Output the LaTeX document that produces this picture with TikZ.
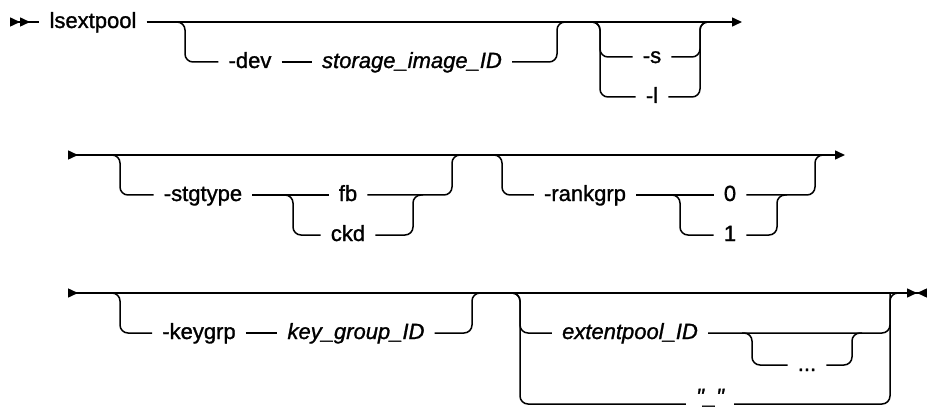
\documentclass[tikz,border=0pt]{standalone}
\usepackage{fontspec}
\setmainfont{Liberation Sans}
\usetikzlibrary{arrows.meta,positioning}

\tikzset{rtip/.tip={Triangle[length=10pt,width=9pt]},
  ltip/.tip={Triangle[length=10pt,width=9pt,reversed]}}

\begin{document}
\begin{tikzpicture}[x=1pt, y=-1pt,
  rail/.style={line width=1.5pt, rounded corners=8pt},
  kw/.style={inner xsep=10pt, inner ysep=0pt, text height=16pt, text depth=4pt,
    font=\fontsize{22}{25}\selectfont\addfontfeatures{FakeBold=1.2}},
  var/.style={kw, font=\fontsize{22}{25}\selectfont\itshape\addfontfeatures{FakeBold=1.2}}]

  \useasboundingbox (0,0) rectangle (927,409);

  % first line: command, -dev, -s / -l
  \coordinate (s1) at (10,22);
  \coordinate (e1) at (742,22);
  \node[kw] (cmd) at (93,22) {lsextpool};
  \coordinate (devL) at (175,22);
  \coordinate (devR) at (557,22);
  \node[kw] (dev) at (250,62) {-dev};
  \node[var] (sid) at (412,62) {storage\_image\_ID};
  \coordinate (slL) at (590,22);
  \coordinate (slR) at (700,22);
  \node[kw] (optS) at (652,57) {-s};
  \node[kw] (optL) at (652,97) {-l};

  \draw[rail, {ltip[]ltip[]}-] (s1) -- (cmd.west);
  \draw[rail, -rtip] (cmd.east) -- (e1);
  \draw[rail] (devL) -- ++(10,0) |- (dev.west);
  \draw[rail] (dev.east) -- (sid.west);
  \draw[rail] (sid.east) -| (devR) -- ++(10,0);
  \foreach \o in {optS, optL} {
    \draw[rail] (slL) -- ++(10,0) |- (\o.west);
    \draw[rail] (\o.east) -| (slR) -- ++(10,0);
  }

  % second line: -stgtype, -rankgrp
  \coordinate (s2) at (68,155);
  \coordinate (e2) at (845,155);
  \coordinate (stL) at (110,155);
  \coordinate (stR) at (452,155);
  \node[kw] (stg) at (203,195) {-stgtype};
  \coordinate (fbL) at (283,195);
  \coordinate (fbR) at (413,195);
  \node[kw] (fb) at (348,195) {fb};
  \node[kw] (ckd) at (348,235) {ckd};
  \coordinate (rkL) at (492,155);
  \coordinate (rkR) at (815,155);
  \node[kw] (rank) at (585,195) {-rankgrp};
  \coordinate (nL) at (670,195);
  \coordinate (nR) at (777,195);
  \node[kw] (n0) at (730,195) {0};
  \node[kw] (n1) at (730,235) {1};

  \draw[rail, ltip-rtip] (s2) -- (e2);
  \draw[rail] (stL) -- ++(10,0) |- (stg.west);
  \draw[rail] (stg.east) -- (fb.west);
  \draw[rail] (fbL) -- ++(10,0) |- (ckd.west);
  \draw[rail] (ckd.east) -| (fbR) -- ++(10,0);
  \draw[rail] (fb.east) -| (stR) -- ++(10,0);
  \draw[rail] (rkL) -- ++(10,0) |- (rank.west);
  \draw[rail] (rank.east) -- (n0.west);
  \draw[rail] (nL) -- ++(10,0) |- (n1.west);
  \draw[rail] (n1.east) -| (nR) -- ++(10,0);
  \draw[rail] (n0.east) -| (rkR) -- ++(10,0);

  % third line: -keygrp, extentpool_ID ... / "_"
  \coordinate (s3) at (68,293);
  \coordinate (e3) at (927,293);
  \coordinate (kgL) at (110,293);
  \coordinate (kgR) at (472,293);
  \node[kw] (kg) at (199,333) {-keygrp};
  \node[var] (kgid) at (356,333) {key\_group\_ID};
  \coordinate (exL) at (510,293);
  \coordinate (exR) at (890,293);
  \node[var] (ext) at (630,333) {extentpool\_ID};
  \node[var, anchor=base] (dash) at (710,404) {\textquotedbl\_\textquotedbl};
  \coordinate (rpL) at (742,333);
  \coordinate (rpR) at (852,333);
  \node[kw] (dots) at (807,365) {...};

  \draw[rail, ltip-{rtip[]ltip[]}] (s3) -- (e3);
  \draw[rail] (kgL) -- ++(10,0) |- (kg.west);
  \draw[rail] (kg.east) -- (kgid.west);
  \draw[rail] (kgid.east) -| (kgR) -- ++(10,0);
  \draw[rail] (exL) -- ++(10,0) |- (ext.west);
  \draw[rail] (exL) -- ++(10,0) |- (dash.base west);
  \draw[rail] (ext.east) -| (exR) -- ++(10,0);
  \draw[rail] (dash.base east) -| (exR);
  \draw[rail] (rpL) -- ++(10,0) |- (dots.west);
  \draw[rail] (dots.east) -| (rpR) -- ++(10,0);

\end{tikzpicture}
\end{document}
